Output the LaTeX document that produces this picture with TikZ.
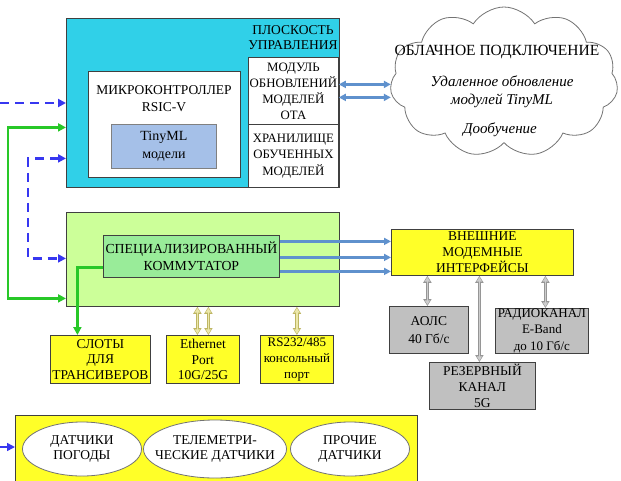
\documentclass[tikz,border=0pt]{standalone}
\usepackage{fontspec}
\setmainfont{Liberation Serif}
\usetikzlibrary{shapes.geometric,shapes.symbols,arrows.meta}
\definecolor{cyanc}{RGB}{48,208,232}
\definecolor{greenc}{RGB}{204,255,153}
\definecolor{mintc}{RGB}{153,236,153}
\definecolor{yelc}{RGB}{255,255,40}
\definecolor{grayc}{RGB}{192,192,192}
\definecolor{tinyc}{RGB}{165,192,232}
\definecolor{barc}{RGB}{95,145,205}
\definecolor{khakid}{RGB}{190,182,100}
\definecolor{khakil}{RGB}{236,232,170}
\definecolor{dblue}{RGB}{55,55,240}
\definecolor{gline}{RGB}{40,200,40}
\definecolor{garrd}{RGB}{150,150,150}
\definecolor{garrl}{RGB}{205,205,205}
\begin{document}
\begin{tikzpicture}[x=1pt,y=-1pt,
  box/.style={draw=black!75, line width=0.8pt, inner sep=0pt, align=center, anchor=north west, font=\fontsize{13.5}{15.8}\selectfont},
  txt/.style={inner sep=0pt, align=center, font=\fontsize{13.5}{15.8}\selectfont},
  barrow/.style={barc, line width=2.2pt, {Triangle[length=7pt,width=7pt]}-{Triangle[length=7pt,width=7pt]}},
  farrow/.style={barc, line width=2.2pt, -{Triangle[length=7pt,width=7pt]}},
  karrowo/.style={khakid, line width=3.4pt, {Triangle[length=7pt,width=8pt]}-{Triangle[length=7pt,width=8pt]}},
  karrowi/.style={khakil, line width=1.6pt, shorten >=1.2pt, shorten <=1.2pt, {Triangle[length=4.5pt,width=5pt]}-{Triangle[length=4.5pt,width=5pt]}},
  gyarrowo/.style={garrd, line width=3.4pt, {Triangle[length=7pt,width=8pt]}-{Triangle[length=7pt,width=8pt]}},
  gyarrowi/.style={garrl, line width=1.6pt, shorten >=1.2pt, shorten <=1.2pt, {Triangle[length=4.5pt,width=5pt]}-{Triangle[length=4.5pt,width=5pt]}},
  dasharrow/.style={dblue, line width=2.2pt, dash pattern=on 9pt off 6pt, -{Triangle[length=8pt,width=8pt]}},
  greenarrow/.style={gline, line width=2.2pt, -{Triangle[length=8pt,width=8pt]}},
  ell/.style={ellipse, draw=black!55, line width=0.8pt, fill=white, inner sep=0pt}
]
\useasboundingbox (0,0) rectangle (621,480);

% control plane
\node[box, fill=cyanc, minimum width=273pt, minimum height=169pt] (cp) at (66,18) {};
\node[txt] (cpt) at (293,37.5) {ПЛОСКОСТЬ\\УПРАВЛЕНИЯ};
\node[box, fill=white, minimum width=90pt, minimum height=67pt, font=\fontsize{12.8}{16}\selectfont] (mod) at (248,57) {МОДУЛЬ\\ОБНОВЛЕНИЙ\\МОДЕЛЕЙ\\ОТА};
\node[box, fill=white, minimum width=90pt, minimum height=63pt, font=\fontsize{12.8}{16.5}\selectfont] (stor) at (248,124) {ХРАНИЛИЩЕ\\ОБУЧЕННЫХ\\МОДЕЛЕЙ};
\node[box, fill=white, minimum width=152pt, minimum height=106pt] (mcu) at (88,71) {};
\node[txt, font=\fontsize{13.5}{17}\selectfont] (mcut) at (164,98.5) {МИКРОКОНТРОЛЛЕР\\RSIC-V};
\node[box, fill=tinyc, draw=black!50, minimum width=105pt, minimum height=44pt, font=\fontsize{14}{18}\selectfont] (tiny) at (111,124) {TinyML\\модели};

% cloud
\node[cloud, draw=black!55, line width=0.8pt, fill=white, cloud puffs=11, cloud puff arc=115, minimum width=228pt, minimum height=150pt] (cl) at (504,82) {};
\node[txt, font=\fontsize{15.5}{18}\selectfont] (clt) at (497,52) {ОБЛАЧНОЕ ПОДКЛЮЧЕНИЕ};
\node[txt, font=\fontsize{15}{17.5}\selectfont\itshape] (cli) at (502,91.5) {Удаленное обновление\\модулей TinyML};
\node[txt, font=\fontsize{15}{17.5}\selectfont\itshape] (cld) at (500,130) {Дообучение};

\draw[barrow] ([yshift=6.5pt]mod.east) -- ([yshift=6.5pt]mod.east -| cl.west);
\draw[barrow] ([yshift=-6.5pt]mod.east) -- ([yshift=-6.5pt]mod.east -| cl.west);

% data plane
\node[box, fill=greenc, minimum width=273pt, minimum height=94pt] (dp) at (66,212) {};
\node[box, fill=mintc, minimum width=176pt, minimum height=42pt, font=\fontsize{13.8}{17}\selectfont] (comm) at (103,235) {СПЕЦИАЛИЗИРОВАННЫЙ\\КОММУТАТОР};

\node[box, fill=yelc, minimum width=182pt, minimum height=46pt] (modem) at (391,229) {ВНЕШНИЕ\\МОДЕМНЫЕ\\ИНТЕРФЕЙСЫ};
\node[box, fill=grayc, minimum width=79pt, minimum height=47pt, font=\fontsize{13.5}{18}\selectfont] (aols) at (389,306) {АОЛС\\40 Гб/с};
\node[box, fill=grayc, minimum width=93pt, minimum height=45pt, font=\fontsize{13}{16.5}\selectfont] (radio) at (495,308) {РАДИОКАНАЛ\\E-Band\\до 10 Гб/с};
\node[box, fill=grayc, minimum width=106pt, minimum height=47pt] (rez) at (429,362) {РЕЗЕРВНЫЙ\\КАНАЛ\\5G};

\draw[farrow] ([yshift=15pt]comm.east) -- ([yshift=15pt]comm.east -| modem.west);
\draw[farrow] ([yshift=-1pt]comm.east) -- ([yshift=-1pt]comm.east -| modem.west);
\draw[farrow] ([yshift=-15pt]comm.east) -- ([yshift=-15pt]comm.east -| modem.west);

\foreach \n/\s in {aols/-1.5pt, rez/-3pt, radio/3.5pt}{
  \draw[gyarrowo] ([xshift=\s]\n.north) -- ([xshift=\s]\n.north |- modem.south);
  \draw[gyarrowi] ([xshift=\s]\n.north) -- ([xshift=\s]\n.north |- modem.south);
}

\node[box, fill=yelc, minimum width=100pt, minimum height=48pt] (slots) at (50,335) {СЛОТЫ\\ДЛЯ\\ТРАНСИВЕРОВ};
\node[box, fill=yelc, minimum width=73pt, minimum height=48pt] (eth) at (166,335) {Ethernet\\Port\\10G/25G};
\node[box, fill=yelc, minimum width=73pt, minimum height=48pt, font=\fontsize{13}{15.8}\selectfont] (rs) at (260,335) {RS232/485\\консольный\\порт};

\foreach \n/\s in {eth/-5.5pt, eth/5.5pt, rs/0pt}{
  \draw[karrowo] ([xshift=\s]\n.north) -- ([xshift=\s]\n.north |- dp.south);
  \draw[karrowi] ([xshift=\s]\n.north) -- ([xshift=\s]\n.north |- dp.south);
}

\draw[greenarrow] ([yshift=-11pt]comm.west) -| ([xshift=-23pt]slots.north);

% left connectors
\coordinate (gx) at (8,0);
\coordinate (bx) at (28,0);
\coordinate (d1) at (0,103);
\draw[dasharrow] (d1) -- (d1 -| cp.west);
\draw[gline, line width=2.2pt, {Triangle[length=8pt,width=8pt]}-{Triangle[length=8pt,width=8pt]}]
  ([yshift=-24.5pt]cp.west) -- ([yshift=-24.5pt]cp.west -| gx) |- ([yshift=-39pt]dp.west);
\draw[dasharrow, {Triangle[length=8pt,width=8pt]}-{Triangle[length=8pt,width=8pt]}]
  ([yshift=-55.5pt]cp.west) -- ([yshift=-55.5pt]cp.west -| bx) |- ([yshift=1pt]dp.west);

% sensors
\node[box, fill=yelc, minimum width=402pt, minimum height=75pt] (sens) at (15,415) {};
\node[ell, minimum width=119pt, minimum height=54pt] (e1) at (82,449) {};
\node[ell, minimum width=143pt, minimum height=58pt] (e2) at (215,449) {};
\node[ell, minimum width=119pt, minimum height=54pt] (e3) at (350,449) {};
\node[txt] (e1t) at (e1.center) {ДАТЧИКИ\\ПОГОДЫ};
\node[txt] (e2t) at (e2.center) {ТЕЛЕМЕТРИ-\\ЧЕСКИЕ ДАТЧИКИ};
\node[txt] (e3t) at (e3.center) {ПРОЧИЕ\\ДАТЧИКИ};
\coordinate (d2) at (0,447);
\draw[dblue, line width=1.5pt, -{Triangle[length=8pt,width=8pt]}] (d2) -- (d2 -| sens.west);
\end{tikzpicture}
\end{document}
